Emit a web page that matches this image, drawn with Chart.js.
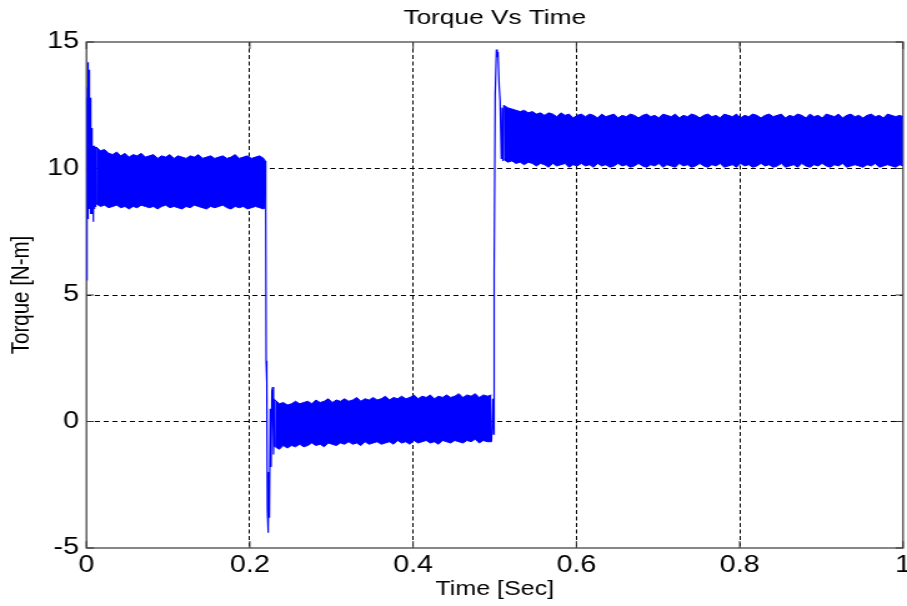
<!DOCTYPE html>
<html>
<head>
<meta charset="utf-8">
<script src="https://cdn.jsdelivr.net/npm/chart.js@4.4.1/dist/chart.umd.min.js"></script>
<style>
html,body{margin:0;padding:0;background:#fff;overflow:hidden;}
#wrap{width:726px;height:606px;transform:scaleX(1.24931);transform-origin:0 0;}
</style>
</head>
<body>
<div id="wrap"><canvas id="c" width="726" height="606"></canvas></div>
<script>
// ---- tick labels ----
const xTickLabels = ['0', '0.2', '0.4', '0.6', '0.8', '1'];
const yTickLabels = ['-5', '0', '5', '10', '15'];

// ---- start-up transient ----
const startT = [0.0000, 0.0004, 0.0008, 0.0012, 0.0016, 0.0020, 0.0024, 0.0028, 0.0032, 0.0036, 0.0040, 0.0044, 0.0048, 0.0052, 0.0056, 0.0060, 0.0064, 0.0068, 0.0072, 0.0076, 0.0080, 0.0084, 0.0088, 0.0092, 0.0096, 0.0100, 0.0104, 0.0108, 0.0112, 0.0116, 0.0120];
const startV = [5.6, 12.8, 7.8, 13.2, 8.2, 14.2, 8.0, 13.9, 8.4, 13.7, 8.6, 12.8, 8.2, 12.4, 8.8, 11.6, 8.9, 11.0, 8.2, 10.6, 7.9, 10.9, 8.2, 10.8, 8.4, 10.9, 8.5, 10.8, 8.6, 10.85, 8.6];

// ---- ripple band 1 (upper / lower envelope) ----
const band1T = [0.012, 0.017, 0.022, 0.027, 0.032, 0.037, 0.042, 0.047, 0.052, 0.057, 0.062, 0.067, 0.072, 0.077, 0.082, 0.087, 0.092, 0.097, 0.102, 0.107, 0.112, 0.117, 0.122, 0.127, 0.132, 0.137, 0.142, 0.147, 0.152, 0.157, 0.162, 0.167, 0.172, 0.177, 0.182, 0.187, 0.192, 0.197, 0.202, 0.207, 0.212, 0.217, 0.219];
const band1Hi = [10.85, 10.7, 10.75, 10.6, 10.55, 10.65, 10.5, 10.6, 10.45, 10.55, 10.5, 10.6, 10.45, 10.5, 10.55, 10.4, 10.5, 10.45, 10.55, 10.4, 10.5, 10.45, 10.4, 10.5, 10.45, 10.55, 10.4, 10.45, 10.5, 10.4, 10.45, 10.5, 10.4, 10.45, 10.55, 10.4, 10.45, 10.5, 10.4, 10.45, 10.5, 10.4, 10.3];
const band1Lo = [8.6, 8.5, 8.55, 8.45, 8.5, 8.55, 8.45, 8.5, 8.4, 8.5, 8.45, 8.55, 8.5, 8.45, 8.5, 8.4, 8.5, 8.55, 8.45, 8.5, 8.45, 8.4, 8.5, 8.45, 8.55, 8.5, 8.45, 8.4, 8.5, 8.45, 8.5, 8.55, 8.45, 8.4, 8.5, 8.45, 8.5, 8.4, 8.45, 8.5, 8.45, 8.4, 8.5];

// ---- load drop transient ----
const dropT = [0.2190, 0.2195, 0.2200, 0.2205, 0.2210, 0.2215, 0.2225, 0.2232, 0.2240, 0.2250, 0.2260, 0.2270, 0.2280, 0.2290, 0.2300, 0.2310];
const dropV = [10.3, 8.6, 2.4, 1.6, 2.0, -3.5, -4.4, -2.0, -3.8, 0.5, -1.8, 1.2, 1.36, -1.3, 0.9, -1.0];

// ---- ripple band 2 ----
const band2T = [0.231, 0.236, 0.241, 0.246, 0.251, 0.256, 0.261, 0.266, 0.271, 0.276, 0.281, 0.286, 0.291, 0.296, 0.301, 0.306, 0.311, 0.316, 0.321, 0.326, 0.331, 0.336, 0.341, 0.346, 0.351, 0.356, 0.361, 0.366, 0.371, 0.376, 0.381, 0.386, 0.391, 0.396, 0.401, 0.406, 0.411, 0.416, 0.421, 0.426, 0.431, 0.436, 0.441, 0.446, 0.451, 0.456, 0.461, 0.466, 0.471, 0.476, 0.481, 0.486, 0.491, 0.496];
const band2Hi = [0.85, 0.7, 0.75, 0.65, 0.7, 0.8, 0.7, 0.75, 0.8, 0.7, 0.85, 0.75, 0.8, 0.9, 0.75, 0.85, 0.8, 0.9, 0.8, 0.85, 0.95, 0.8, 0.9, 0.85, 0.95, 0.85, 0.9, 1.0, 0.85, 0.95, 0.9, 1.0, 0.9, 0.95, 1.05, 0.9, 1.0, 0.95, 1.05, 0.9, 1.0, 0.95, 1.05, 0.95, 1.0, 1.1, 0.95, 1.05, 1.0, 1.1, 0.95, 1.05, 1.0, 1.05];
const band2Lo = [-1.0, -1.1, -0.95, -1.05, -0.95, -1.0, -0.9, -1.0, -0.95, -0.85, -0.95, -0.9, -1.0, -0.85, -0.9, -0.95, -0.85, -0.9, -0.8, -0.9, -0.85, -0.95, -0.8, -0.9, -0.85, -0.8, -0.9, -0.85, -0.8, -0.9, -0.75, -0.85, -0.8, -0.9, -0.75, -0.85, -0.8, -0.75, -0.85, -0.8, -0.9, -0.75, -0.8, -0.85, -0.75, -0.8, -0.85, -0.75, -0.8, -0.7, -0.85, -0.75, -0.8, -0.8];

// ---- load step-up transient ----
const riseT = [0.4960, 0.4975, 0.4985, 0.4990, 0.4995, 0.5005, 0.5020, 0.5030, 0.5040, 0.5055, 0.5065, 0.5080, 0.5090, 0.5100, 0.5110];
const riseV = [-0.8, 0.9, -0.5, 6.0, 5.8, 12.9, 14.7, 14.4, 14.6, 13.2, 12.7, 10.4, 12.4, 10.3, 12.5];

// ---- ripple band 3 ----
const band3T = [0.511, 0.516, 0.521, 0.526, 0.531, 0.536, 0.541, 0.546, 0.551, 0.556,
  0.561, 0.566, 0.571, 0.576, 0.581, 0.586, 0.591, 0.596, 0.601, 0.606,
  0.611, 0.616, 0.621, 0.626, 0.631, 0.636, 0.641, 0.646, 0.651, 0.656,
  0.661, 0.666, 0.671, 0.676, 0.681, 0.686, 0.691, 0.696, 0.701, 0.706,
  0.711, 0.716, 0.721, 0.726, 0.731, 0.736, 0.741, 0.746, 0.751, 0.756,
  0.761, 0.766, 0.771, 0.776, 0.781, 0.786, 0.791, 0.796, 0.801, 0.806,
  0.811, 0.816, 0.821, 0.826, 0.831, 0.836, 0.841, 0.846, 0.851, 0.856,
  0.861, 0.866, 0.871, 0.876, 0.881, 0.886, 0.891, 0.896, 0.901, 0.906,
  0.911, 0.916, 0.921, 0.926, 0.931, 0.936, 0.941, 0.946, 0.951, 0.956,
  0.961, 0.966, 0.971, 0.976, 0.981, 0.986, 0.991, 0.996, 1.0];
const band3Hi = [12.5, 12.4, 12.35, 12.3, 12.25, 12.3, 12.2, 12.25, 12.15, 12.2,
  12.1, 12.2, 12.15, 12.05, 12.2, 12.1, 12.15, 12.0, 12.1, 12.15,
  12.05, 12.15, 12.1, 12.0, 12.15, 12.05, 12.1, 12.15, 12.0, 12.1,
  12.05, 12.15, 12.1, 12.0, 12.1, 12.15, 12.05, 12.1, 12.0, 12.15,
  12.1, 12.05, 12.15, 12.0, 12.1, 12.05, 12.15, 12.1, 12.0, 12.1,
  12.15, 12.05, 12.1, 12.0, 12.15, 12.1, 12.05, 12.15, 12.0, 12.1,
  12.05, 12.15, 12.1, 12.0, 12.1, 12.15, 12.05, 12.1, 12.15, 12.0,
  12.1, 12.05, 12.15, 12.1, 12.0, 12.15, 12.05, 12.1, 12.0, 12.15,
  12.1, 12.05, 12.15, 12.0, 12.1, 12.15, 12.05, 12.1, 12.0,
  12.1, 12.15, 12.05, 12.1, 12.0, 12.15, 12.1, 12.05, 12.1, 12.05];
const band3Lo = [10.35, 10.25, 10.3, 10.2, 10.25, 10.15, 10.25, 10.2, 10.1, 10.2,
  10.15, 10.05, 10.2, 10.1, 10.15, 10.2, 10.05, 10.15, 10.1, 10.2,
  10.1, 10.15, 10.05, 10.2, 10.1, 10.15, 10.05, 10.1, 10.2, 10.1,
  10.15, 10.05, 10.1, 10.2, 10.1, 10.05, 10.15, 10.1, 10.2, 10.05,
  10.15, 10.1, 10.05, 10.2, 10.1, 10.15, 10.05, 10.1, 10.2, 10.1,
  10.05, 10.15, 10.1, 10.2, 10.05, 10.1, 10.15, 10.05, 10.2, 10.1,
  10.15, 10.05, 10.1, 10.2, 10.1, 10.15, 10.05, 10.1, 10.2, 10.05,
  10.1, 10.15, 10.05, 10.2, 10.1, 10.05, 10.15, 10.1, 10.2, 10.1,
  10.05, 10.15, 10.1, 10.2, 10.05, 10.1, 10.15, 10.1, 10.05,
  10.15, 10.1, 10.2, 10.05, 10.1, 10.15, 10.1, 10.05, 10.15, 10.1];

const BLUE = '#0000ff';
const pts = (T, V) => T.map((t, i) => ({ x: t, y: V[i] }));
const line = (T, V, extra) => Object.assign({
  data: pts(T, V), borderColor: BLUE, backgroundColor: BLUE, borderWidth: 1,
  pointRadius: 0, tension: 0, fill: false
}, extra || {});

const datasets = [
  line(band1T, band1Hi),                       // 0
  line(band1T, band1Lo, { fill: 0 }),          // 1
  line(band2T, band2Hi),                       // 2
  line(band2T, band2Lo, { fill: 2 }),          // 3
  line(band3T, band3Hi),                       // 4
  line(band3T, band3Lo, { fill: 4 }),          // 5
  line(startT, startV, { borderWidth: 1.2 }),  // 6
  line(dropT, dropV, { borderWidth: 1.2 }),    // 7
  line(riseT, riseV, { borderWidth: 1.2 })     // 8
];

const frame = {
  id: 'frame',
  beforeDatasetsDraw(chart) {
    const { ctx, chartArea: a, scales } = chart;
    ctx.save();
    ctx.strokeStyle = '#555';
    ctx.lineWidth = 1.4;
    ctx.strokeRect(a.left, a.top, a.right - a.left, a.bottom - a.top);
    ctx.lineWidth = 1;
    ctx.strokeStyle = '#333';
    ctx.beginPath();
    scales.x.ticks.forEach(t => {
      const p = scales.x.getPixelForValue(t.value);
      ctx.moveTo(p, a.bottom); ctx.lineTo(p, a.bottom - 7);
      ctx.moveTo(p, a.top); ctx.lineTo(p, a.top + 7);
    });
    scales.y.ticks.forEach(t => {
      const p = scales.y.getPixelForValue(t.value);
      ctx.moveTo(a.left, p); ctx.lineTo(a.left + 6, p);
      ctx.moveTo(a.right, p); ctx.lineTo(a.right - 6, p);
    });
    ctx.stroke();
    ctx.restore();
  }
};

Chart.defaults.font.family = '"Liberation Sans", Arial, sans-serif';
Chart.defaults.color = '#000';

new Chart(document.getElementById('c'), {
  type: 'line',
  data: { datasets },
  plugins: [frame],
  options: {
    responsive: false,
    animation: false,
    devicePixelRatio: 1,
    layout: { padding: { left: 0, right: 3.2, top: 0, bottom: 0 } },
    plugins: {
      legend: { display: false },
      tooltip: { enabled: false },
      title: {
        display: true, text: 'Torque Vs Time', fullSize: false,
        color: '#000', font: { size: 21, weight: 'normal' },
        padding: { top: 6, bottom: 10.8 }
      }
    },
    scales: {
      x: {
        type: 'linear', min: 0, max: 1,
        ticks: {
          stepSize: 0.2, autoSkip: false, maxRotation: 0, padding: 4,
          color: '#000', font: { size: 23 },
          callback: (v, i) => xTickLabels[i]
        },
        grid: {
          drawTicks: false, lineWidth: 1,
          color: c => (c.tick && (c.tick.value <= 0 || c.tick.value >= 1)) ? 'rgba(0,0,0,0)' : '#000'
        },
        border: { display: false, dash: [4, 2.5] },
        title: {
          display: true, text: 'Time [Sec]', color: '#000',
          font: { size: 20 }, padding: { top: 0, bottom: 5 }
        },
        afterFit(s) { s.height = 58; s.paddingLeft = 0; s.paddingRight = 0; }
      },
      y: {
        min: -5, max: 15,
        ticks: {
          stepSize: 5, padding: 6, color: '#000', font: { size: 23 },
          callback: (v, i) => yTickLabels[i]
        },
        grid: {
          drawTicks: false, lineWidth: 1,
          color: c => (c.tick && (c.tick.value <= -5 || c.tick.value >= 15)) ? 'rgba(0,0,0,0)' : '#000'
        },
        border: { display: false, dash: [4, 3] },
        title: {
          display: true, text: 'Torque [N-m]', color: '#000',
          font: { size: 20.5 }, padding: { top: 5, bottom: 0 }
        },
        afterFit(s) { s.width = 69.24; s.paddingTop = 0; s.paddingBottom = 0; }
      }
    }
  }
});
</script>
</body>
</html>
